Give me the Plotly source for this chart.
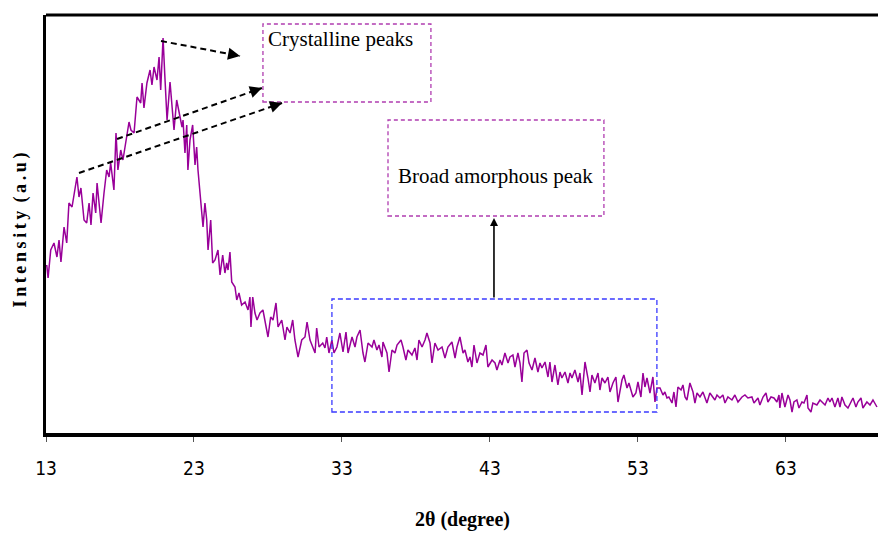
import math
import plotly.graph_objects as go

two_theta = [13.05,13.14,13.32,13.54,13.74,13.88,14.01,14.22,14.40,14.55,14.76,15.01,15.09,15.23,15.36,15.57,15.75,15.91,16.04,16.18,16.36,16.45,16.63,16.72,16.92,17.10,17.26,17.37,17.59,17.73,17.86,18.05,18.20,18.39,18.61,18.74,18.95,19.15,19.40,19.49,19.62,19.82,20.03,20.16,20.30,20.50,20.64,20.75,20.86,20.91,21.02,21.18,21.38,21.51,21.65,21.83,21.99,22.19,22.26,22.39,22.51,22.59,22.73,22.91,23.07,23.18,23.27,23.45,23.61,23.74,23.86,23.95,24.13,24.26,24.42,24.62,24.76,24.94,25.09,25.21,25.30,25.43,25.55,25.77,25.89,26.04,26.22,26.45,26.65,26.78,26.85,26.97,27.12,27.26,27.46,27.66,27.86,28.00,28.18,28.34,28.54,28.68,28.93,29.15,29.28,29.49,29.67,29.82,30.03,30.28,30.50,30.64,30.84,31.02,31.18,31.29,31.45,31.70,31.85,31.97,32.12,32.32,32.46,32.66,32.86,33.07,33.27,33.41,33.68,33.88,34.01,34.22,34.42,34.55,34.76,35.03,35.16,35.36,35.50,35.70,35.77,36.04,36.18,36.38,36.58,36.72,36.99,37.12,37.32,37.46,37.73,37.93,38.07,38.20,38.41,38.61,38.74,38.95,39.08,39.28,39.49,39.76,39.96,40.16,40.43,40.64,40.77,40.97,41.18,41.31,41.51,41.65,41.78,41.92,42.12,42.32,42.53,42.73,42.86,43.14,43.34,43.47,43.68,43.81,44.01,44.22,44.35,44.55,44.69,44.89,45.03,45.16,45.30,45.50,45.64,45.84,46.04,46.24,46.38,46.51,46.72,46.92,47.05,47.19,47.39,47.59,47.73,47.86,48.07,48.27,48.41,48.54,48.74,48.95,49.08,49.22,49.42,49.62,49.76,49.89,50.09,50.30,50.43,50.57,50.77,50.97,51.11,51.31,51.51,51.65,51.92,52.05,52.26,52.39,52.66,52.86,53.00,53.20,53.34,53.47,53.61,53.81,54.01,54.15,54.28,54.49,54.69,54.82,54.96,55.09,55.30,55.43,55.57,55.70,55.91,56.04,56.18,56.31,56.51,56.72,56.85,56.99,57.19,57.39,57.53,57.66,57.86,58.07,58.20,58.34,58.54,58.74,58.88,59.08,59.35,59.55,59.76,60.03,60.23,60.43,60.70,60.84,61.11,61.24,61.45,61.65,61.78,61.99,62.19,62.39,62.53,62.59,62.73,62.93,63.14,63.27,63.41,63.54,63.74,63.88,64.08,64.22,64.42,64.49,64.69,64.82,65.09,65.30,65.43,65.64,65.84,65.97,66.11,66.31,66.51,66.65,66.78,66.99,67.19,67.39,67.53,67.73,67.86,68.07,68.20,68.47,68.68,68.88,69.15]

intensity = [168,155,183,190,176,193,171,206,190,230,226,246,256,236,245,213,210,230,208,240,220,250,221,210,240,263,256,270,243,300,263,283,273,293,311,303,300,336,330,350,325,350,363,348,366,353,376,343,388,395,360,313,351,323,303,333,320,306,313,280,308,263,293,308,268,286,263,233,206,230,213,183,213,170,173,183,158,178,160,170,163,181,151,146,133,140,128,131,123,136,106,136,120,113,120,123,106,96,116,113,130,106,113,93,106,100,113,93,76,93,96,111,93,86,80,105,86,90,85,96,80,93,80,86,100,81,101,80,96,86,96,103,80,71,90,86,93,83,88,76,91,80,61,83,80,88,93,86,73,83,78,85,73,93,86,93,100,90,70,90,83,86,75,86,91,75,86,96,80,83,71,76,66,88,70,80,78,88,66,73,70,63,73,68,80,70,76,78,66,80,70,51,80,83,70,63,75,61,70,65,71,56,71,51,68,48,61,55,61,50,60,55,63,51,60,38,71,55,41,58,50,60,43,55,50,56,41,50,56,31,53,58,45,50,36,40,51,36,60,46,55,40,56,31,45,45,38,41,35,36,30,41,26,46,43,48,36,33,50,41,30,40,36,41,35,30,40,36,33,38,35,38,30,36,33,38,31,36,38,35,36,30,35,28,36,40,31,36,35,31,38,25,40,26,38,33,21,31,33,25,31,30,38,25,21,30,28,33,31,28,35,31,35,26,35,26,36,28,25,31,35,26,31,35,25,31,28,33,26]

x_ticks = [13, 23, 33, 43, 53, 63]
x_range = [13, 69.22]
y_range = [0, 418]

purple = "#990099"
box_mag = "#b03cb0"
box_blue = "#3a3aff"
serif = "Liberation Serif, Times New Roman, serif"

fig = go.Figure()
fig.add_trace(go.Scatter(x=two_theta, y=intensity, mode="lines",
                         line=dict(color=purple, width=1.5), showlegend=False,
                         hoverinfo="skip"))

shapes = []
shapes.append(dict(type="rect", xref="x", yref="y", x0=27.66, x1=39.01, y0=331, y1=409,
                   line=dict(color=box_mag, width=1.3, dash="4px,3px")))
shapes.append(dict(type="rect", xref="x", yref="y", x0=36.11, x1=50.70, y0=217, y1=313,
                   line=dict(color=box_mag, width=1.3, dash="4px,3px")))
shapes.append(dict(type="rect", xref="x", yref="y", x0=32.32, x1=54.28, y0=21, y1=134,
                   line=dict(color=box_blue, width=1.3, dash="5px,3px")))
dlines = [((15.23, 260), (28.95, 330)), ((17.80, 294), (27.59, 345)), ((20.77, 392), (26.11, 377))]
for (a, b) in dlines:
    shapes.append(dict(type="line", xref="x", yref="y", x0=a[0], y0=a[1], x1=b[0], y1=b[1],
                       line=dict(color="black", width=2, dash="6px,4px")))
shapes.append(dict(type="line", xref="paper", yref="paper", x0=0, x1=1, y0=1, y1=1,
                   line=dict(color="black", width=3)))

sx = 832 / (x_range[1] - x_range[0])
sy = 418 / (y_range[1] - y_range[0])

annotations = []
for (a, b) in dlines:
    dxp = (b[0] - a[0]) * sx
    dyp = -(b[1] - a[1]) * sy
    L = math.hypot(dxp, dyp)
    annotations.append(dict(x=b[0], y=b[1], ax=-dxp / L * 12, ay=-dyp / L * 12,
                            xref="x", yref="y", text="",
                            showarrow=True, arrowhead=2, arrowsize=1.2, arrowwidth=2,
                            arrowcolor="black"))
annotations.append(dict(x=43.27, y=215, ax=43.27, ay=134, xref="x", yref="y", axref="x", ayref="y",
                        text="", showarrow=True, arrowhead=2, arrowsize=1, arrowwidth=1.6,
                        arrowcolor="black"))
annotations.append(dict(x=27.85, y=394, xref="x", yref="y", text="Crystalline peaks",
                        showarrow=False, xanchor="left", yanchor="middle",
                        font=dict(family=serif, size=21, color="black")))
annotations.append(dict(x=43.4, y=257, xref="x", yref="y", text="Broad amorphous peak",
                        showarrow=False, xanchor="center", yanchor="middle",
                        font=dict(family=serif, size=21, color="black")))
annotations.append(dict(x=-0.031, y=0.485, xref="paper", yref="paper",
                        text="<b>I\u2009n\u2009t\u2009e\u2009n\u2009s\u2009i\u2009t\u2009y\u2009 (\u2009a\u2009.\u2009u\u2009)</b>",
                        textangle=-90, showarrow=False, xanchor="center", yanchor="middle",
                        font=dict(family=serif, size=18, color="black")))
annotations.append(dict(x=0.5, y=-0.208, xref="paper", yref="paper",
                        text="<b>2\u03b8 (degree)</b>", showarrow=False, xanchor="center", yanchor="middle",
                        font=dict(family=serif, size=20, color="black")))

fig.update_layout(
    width=878, height=534,
    margin=dict(l=46, r=0, t=15, b=101),
    plot_bgcolor="white", paper_bgcolor="white",
    shapes=shapes, annotations=annotations,
    xaxis=dict(range=x_range, tickvals=x_ticks, ticktext=[str(t) for t in x_ticks],
               showgrid=False, zeroline=False, showline=True, linecolor="black", linewidth=4,
               ticks="outside", ticklen=5, tickwidth=1, tickcolor="#555555",
               ticklabelstandoff=10,
               tickfont=dict(family="Liberation Sans Narrow, DejaVu Sans Condensed, Liberation Sans, sans-serif",
                             size=19, color="black")),
    yaxis=dict(range=y_range, showgrid=False, zeroline=False, showline=True, linecolor="black",
               linewidth=3, showticklabels=False, ticks=""),
)

fig.write_html("out.html")
